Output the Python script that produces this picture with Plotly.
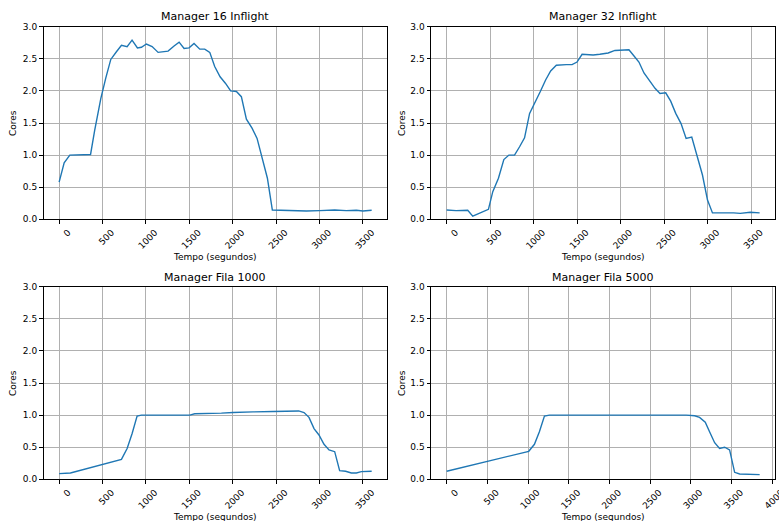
import plotly.graph_objects as go

# ---------------- data ----------------
titles = ["Manager 16 Inflight", "Manager 32 Inflight", "Manager Fila 1000", "Manager Fila 5000"]

m16_t = [0, 58, 123, 353, 362, 410, 480, 537, 595, 660, 718, 783, 840, 902, 948, 1005, 1071, 1140,
         1255, 1324, 1382, 1439, 1497, 1554, 1620, 1677, 1735, 1792, 1854, 1915, 1976, 2042, 2099,
         2157, 2222, 2280, 2337, 2399, 2456, 2694, 2848, 3001, 3174, 3308, 3423, 3500, 3600]
m16_v = [0.58, 0.88, 1.0, 1.0, 1.01, 1.39, 1.88, 2.2, 2.49, 2.61, 2.71, 2.69, 2.79, 2.67, 2.68, 2.73,
         2.69, 2.6, 2.62, 2.7, 2.76, 2.66, 2.67, 2.74, 2.65, 2.65, 2.6, 2.38, 2.22, 2.12, 2.0, 1.99,
         1.91, 1.56, 1.42, 1.26, 0.98, 0.64, 0.145, 0.135, 0.13, 0.135, 0.145, 0.135, 0.14, 0.13, 0.14]

m32_t = [0, 108, 242, 300, 480, 530, 595, 657, 715, 780, 838, 895, 953, 1010, 1076, 1137, 1195, 1260,
         1318, 1375, 1441, 1498, 1556, 1683, 1760, 1856, 1933, 2029, 2094, 2155, 2209, 2267, 2336,
         2394, 2451, 2517, 2574, 2632, 2693, 2751, 2816, 2874, 2939, 2997, 3054, 3296, 3373, 3488, 3596]
m32_v = [0.145, 0.135, 0.14, 0.05, 0.155, 0.43, 0.64, 0.93, 1.0, 1.0, 1.13, 1.27, 1.65, 1.82, 1.99,
         2.17, 2.31, 2.4, 2.41, 2.41, 2.41, 2.45, 2.57, 2.56, 2.57, 2.59, 2.63, 2.64, 2.64, 2.54, 2.45,
         2.28, 2.14, 2.04, 1.96, 1.97, 1.84, 1.65, 1.49, 1.26, 1.28, 1.0, 0.69, 0.3, 0.1, 0.1, 0.093,
         0.11, 0.1]

f1000_t = [0, 130, 718, 783, 840, 898, 948, 1504, 1562, 1773, 1869, 2003, 2119, 2234, 2464, 2617,
           2759, 2821, 2878, 2936, 2993, 3051, 3109, 3174, 3231, 3300, 3366, 3423, 3481, 3600]
f1000_v = [0.088, 0.099, 0.31, 0.48, 0.71, 0.986, 1.0, 1.0, 1.02, 1.02, 1.03, 1.04, 1.04, 1.05, 1.055,
           1.06, 1.065, 1.04, 0.965, 0.79, 0.69, 0.545, 0.457, 0.43, 0.135, 0.125, 0.099, 0.099, 0.12,
           0.125]

f5000_t = [0, 1008, 1078, 1139, 1201, 1262, 2942, 3045, 3106, 3176, 3229, 3291, 3352, 3414, 3475,
           3537, 3598, 3721, 3844]
f5000_v = [0.125, 0.436, 0.545, 0.74, 0.986, 1.0, 1.0, 0.99, 0.965, 0.89, 0.74, 0.57, 0.48, 0.5, 0.457,
           0.109, 0.083, 0.073, 0.073]

y_ticks = [0.0, 0.5, 1.0, 1.5, 2.0, 2.5, 3.0]
x_label = "Tempo (segundos)"
y_label = "Cores"

series = [(m16_t, m16_v), (m32_t, m32_v), (f1000_t, f1000_v), (f5000_t, f5000_v)]

# ---------------- layout geometry ----------------
W, H = 779, 521
x_doms = [[43.5 / W, 387.3 / W], [431.0 / W, 775.3 / W]]
y_doms = [[1 - 219.3 / H, 1 - 26.7 / H], [1 - 479.3 / H, 1 - 286.7 / H]]
title_y = [1 - 16.5 / H, 1 - 277.5 / H]
xlab_y = [1 - 256.5 / H, 1 - 516.5 / H]
ylab_x = [13.0 / W, 402.0 / W]

FONT = "DejaVu Sans"
fig = go.Figure()
annotations = []
for i, (t, v) in enumerate(series):
    r, c = divmod(i, 2)
    n = "" if i == 0 else str(i + 1)
    fig.add_trace(go.Scatter(x=t, y=v, mode="lines", line=dict(color="#1f77b4", width=1.4),
                             xaxis="x" + n, yaxis="y" + n, showlegend=False))
    xmax = max(t)
    pad = 0.05 * xmax
    common = dict(showline=True, linecolor="#000000", linewidth=1, mirror=True,
                  ticks="outside", ticklen=3.5, tickwidth=1, tickcolor="#000000",
                  showgrid=True, gridcolor="#b0b0b0", gridwidth=0.8, zeroline=False,
                  automargin=False,
                  tickfont=dict(family=FONT, size=9, color="#000000"))
    fig.layout["xaxis" + n] = dict(domain=x_doms[c], anchor="y" + n, range=[-pad, xmax + pad],
                                   tickmode="linear", tick0=0, dtick=500, tickangle=-45,
                                   ticklabelshift=9, ticklabeloverflow="allow", **common)
    fig.layout["yaxis" + n] = dict(domain=y_doms[r], anchor="x" + n, range=[0, 3],
                                   tickvals=y_ticks, tickformat=".1f", **common)
    xc = (x_doms[c][0] + x_doms[c][1]) / 2
    yc = (y_doms[r][0] + y_doms[r][1]) / 2
    annotations.append(dict(text=titles[i], x=xc, y=title_y[r], xref="paper", yref="paper",
                            showarrow=False, xanchor="center", yanchor="middle",
                            font=dict(family=FONT, size=11, color="#000000")))
    annotations.append(dict(text=x_label, x=xc, y=xlab_y[r], xref="paper", yref="paper",
                            showarrow=False, xanchor="center", yanchor="middle",
                            font=dict(family=FONT, size=9, color="#000000")))
    annotations.append(dict(text=y_label, x=ylab_x[c], y=yc, xref="paper", yref="paper",
                            showarrow=False, xanchor="center", yanchor="middle", textangle=-90,
                            font=dict(family=FONT, size=9, color="#000000")))

fig.update_layout(width=W, height=H, margin=dict(l=0, r=0, t=0, b=0, autoexpand=False),
                  paper_bgcolor="white", plot_bgcolor="white",
                  annotations=annotations, font=dict(family=FONT))
fig.write_html("out.html", config={"displayModeBar": False},
               post_script="document.body.style.margin='0';document.body.style.overflow='hidden';")
